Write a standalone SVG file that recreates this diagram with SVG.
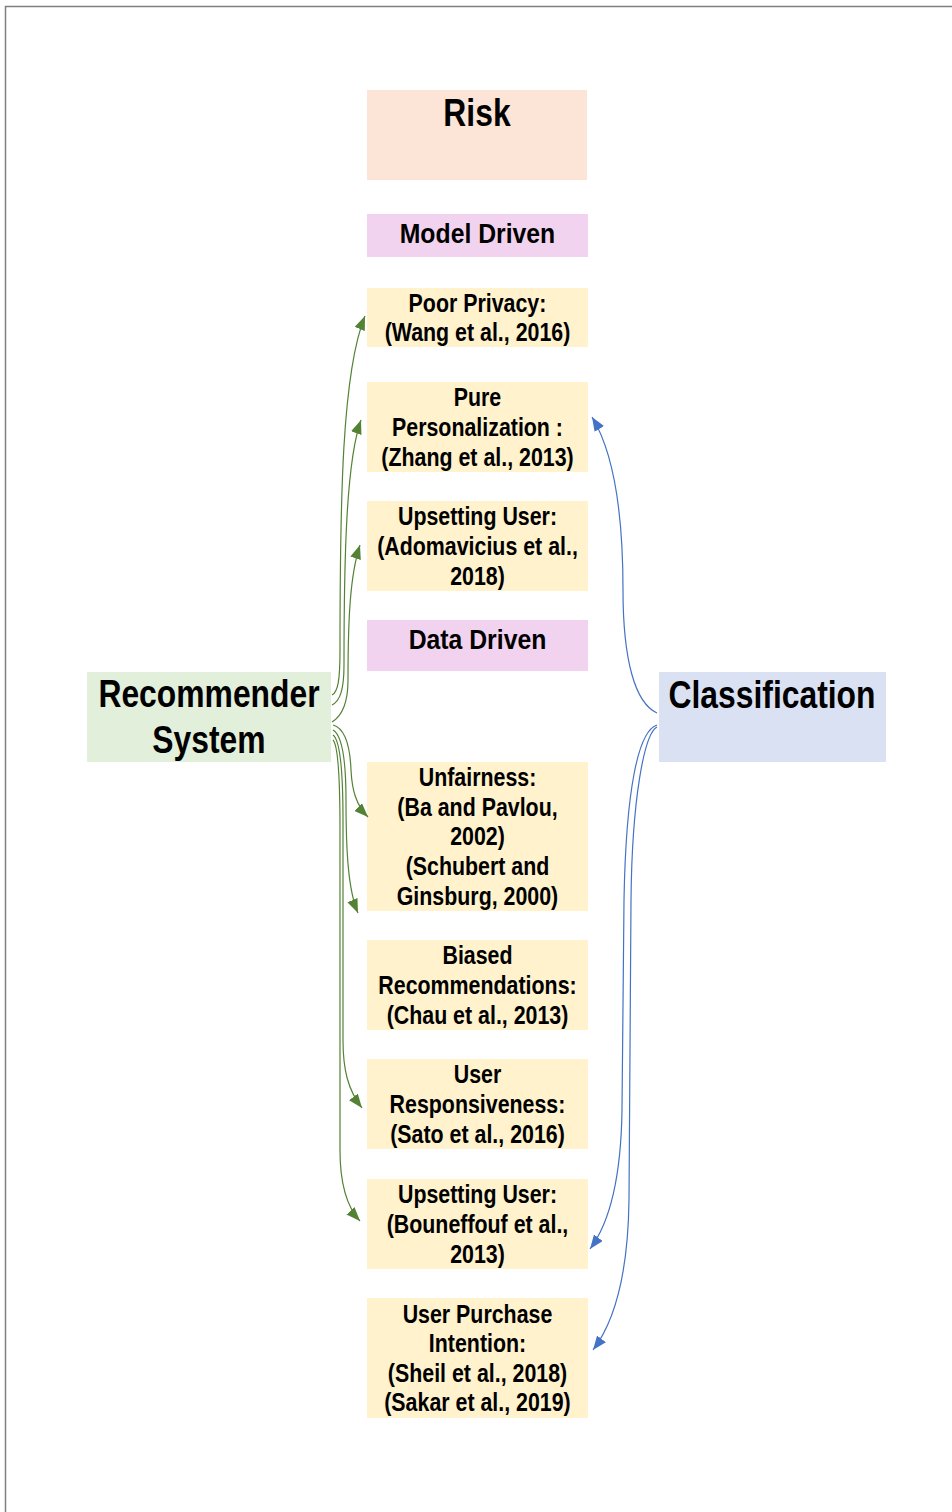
<svg xmlns="http://www.w3.org/2000/svg" width="952" height="1512" viewBox="0 0 952 1512">
  <style>
    text { font-family: "Liberation Sans", Arial, sans-serif; font-weight: bold; fill: #000; text-anchor: middle; }
    .title { font-size: 38px; }
    .group { font-size: 28px; }
    .body { font-size: 25px; }
    .risk { fill: #FCE4D6; }
    .kind { fill: #F2D3EF; }
    .item { fill: #FFF2CC; }
    .rec { fill: #E2EFDA; }
    .cls { fill: #D9E1F2; }
    .g { fill: none; stroke: #548235; stroke-width: 1.2; marker-end: url(#ag); }
    .b { fill: none; stroke: #4472C4; stroke-width: 1.2; marker-end: url(#ab); }
  </style>
  <defs>
    <marker id="ag" markerUnits="userSpaceOnUse" markerWidth="15" markerHeight="11" refX="14" refY="5.5" orient="auto">
      <path d="M0,0 L14,5.5 L0,11 z" fill="#548235"/>
    </marker>
    <marker id="ab" markerUnits="userSpaceOnUse" markerWidth="15" markerHeight="11" refX="14" refY="5.5" orient="auto">
      <path d="M0,0 L14,5.5 L0,11 z" fill="#4472C4"/>
    </marker>
  </defs>

  <rect width="952" height="1512" fill="#fff"/>
  <!-- page frame -->
  <path d="M5.5,1512 V6.5 H952" fill="none" stroke="#7f7f7f" stroke-width="1.5"/>

  <g id="risk">
    <rect class="risk" x="367" y="90" width="220" height="90"/>
    <text class="title" x="477" y="126" transform="matrix(0.838 0 0 1 77.27 0)">Risk</text>
  </g>

  <g id="model-driven">
    <rect class="kind" x="367" y="214" width="221" height="43"/>
    <text class="group" x="477.5" y="243" transform="matrix(0.885 0 0 1 54.91 0)">Model Driven</text>
  </g>

  <g id="poor-privacy">
    <rect class="item" x="367" y="288" width="221" height="59"/>
    <text class="body" transform="matrix(0.855 0 0 1 69.24 0)"><tspan x="477.5" y="311.7">Poor Privacy:</tspan><tspan x="477.5" y="341.3">(Wang et al., 2016)</tspan></text>
  </g>

  <g id="pure-personalization">
    <rect class="item" x="367" y="382" width="221" height="90"/>
    <text class="body" transform="matrix(0.855 0 0 1 69.24 0)"><tspan x="477.5" y="406.4">Pure</tspan><tspan x="477.5" y="436">Personalization :</tspan><tspan x="477.5" y="465.6">(Zhang et al., 2013)</tspan></text>
  </g>

  <g id="upsetting-user-1">
    <rect class="item" x="367" y="501" width="221" height="90"/>
    <text class="body" transform="matrix(0.855 0 0 1 69.24 0)"><tspan x="477.5" y="525.4">Upsetting User:</tspan><tspan x="477.5" y="555">(Adomavicius et al.,</tspan><tspan x="477.5" y="584.6">2018)</tspan></text>
  </g>

  <g id="data-driven">
    <rect class="kind" x="367" y="620" width="221" height="51"/>
    <text class="group" x="477.5" y="649" transform="matrix(0.885 0 0 1 54.91 0)">Data Driven</text>
  </g>

  <g id="recommender-system">
    <rect class="rec" x="87" y="672" width="244" height="90"/>
    <text class="title" transform="matrix(0.838 0 0 1 33.86 0)"><tspan x="209" y="707">Recommender</tspan><tspan x="209" y="753">System</tspan></text>
  </g>

  <g id="classification">
    <rect class="cls" x="659" y="672" width="227" height="90"/>
    <text class="title" x="772" y="708" transform="matrix(0.838 0 0 1 125.06 0)">Classification</text>
  </g>

  <g id="unfairness">
    <rect class="item" x="367" y="762" width="221" height="149"/>
    <text class="body" transform="matrix(0.855 0 0 1 69.24 0)"><tspan x="477.5" y="786.3">Unfairness:</tspan><tspan x="477.5" y="815.9">(Ba and Pavlou,</tspan><tspan x="477.5" y="845.5">2002)</tspan><tspan x="477.5" y="875.1">(Schubert and</tspan><tspan x="477.5" y="904.7">Ginsburg, 2000)</tspan></text>
  </g>

  <g id="biased-recommendations">
    <rect class="item" x="367" y="940" width="221" height="90"/>
    <text class="body" transform="matrix(0.855 0 0 1 69.24 0)"><tspan x="477.5" y="964.4">Biased</tspan><tspan x="477.5" y="994">Recommendations:</tspan><tspan x="477.5" y="1023.6">(Chau et al., 2013)</tspan></text>
  </g>

  <g id="user-responsiveness">
    <rect class="item" x="367" y="1059" width="221" height="90"/>
    <text class="body" transform="matrix(0.855 0 0 1 69.24 0)"><tspan x="477.5" y="1083.4">User</tspan><tspan x="477.5" y="1113">Responsiveness:</tspan><tspan x="477.5" y="1142.6">(Sato et al., 2016)</tspan></text>
  </g>

  <g id="upsetting-user-2">
    <rect class="item" x="367" y="1179" width="221" height="90"/>
    <text class="body" transform="matrix(0.855 0 0 1 69.24 0)"><tspan x="477.5" y="1203.4">Upsetting User:</tspan><tspan x="477.5" y="1233">(Bouneffouf et al.,</tspan><tspan x="477.5" y="1262.6">2013)</tspan></text>
  </g>

  <g id="user-purchase-intention">
    <rect class="item" x="367" y="1298" width="221" height="120"/>
    <text class="body" transform="matrix(0.855 0 0 1 69.24 0)"><tspan x="477.5" y="1322.6">User Purchase</tspan><tspan x="477.5" y="1352.2">Intention:</tspan><tspan x="477.5" y="1381.8">(Sheil et al., 2018)</tspan><tspan x="477.5" y="1411.4">(Sakar et al., 2019)</tspan></text>
  </g>

  <g id="connectors">
    <!-- recommender system, upward -->
    <path class="g" d="M332,695 C338,692 340,680 340,650 C340,500 342,372 365,316"/>
    <path class="g" d="M332,705 C340,701 344,690 344,665 C344,560 346,462 361,420"/>
    <path class="g" d="M332,722 C342,716 348,702 348,680 C348,620 350,575 360,545"/>
    <!-- recommender system, downward -->
    <path class="g" d="M333,725 C344,728 350,745 351,770 C352,790 356,805 368,817"/>
    <path class="g" d="M333,730 C342,735 346,760 346,800 C346,850 348,890 358,913"/>
    <path class="g" d="M333,735 C340,740 343,770 343,820 L343,1040 C343,1070 348,1090 362,1108"/>
    <path class="g" d="M333,740 C338,745 340,780 340,830 L340,1150 C340,1180 345,1205 360,1221"/>
    <!-- classification -->
    <path class="b" d="M657,713 C635,703 623,660 623,590 C623,500 611,448 592,417"/>
    <path class="b" d="M657,725 C638,731 626,790 624,900 L622,1110 C621,1180 608,1225 590,1249"/>
    <path class="b" d="M657,727 C644,734 632,800 631,900 L629,1200 C628,1280 612,1325 593,1350"/>
  </g>
</svg>
